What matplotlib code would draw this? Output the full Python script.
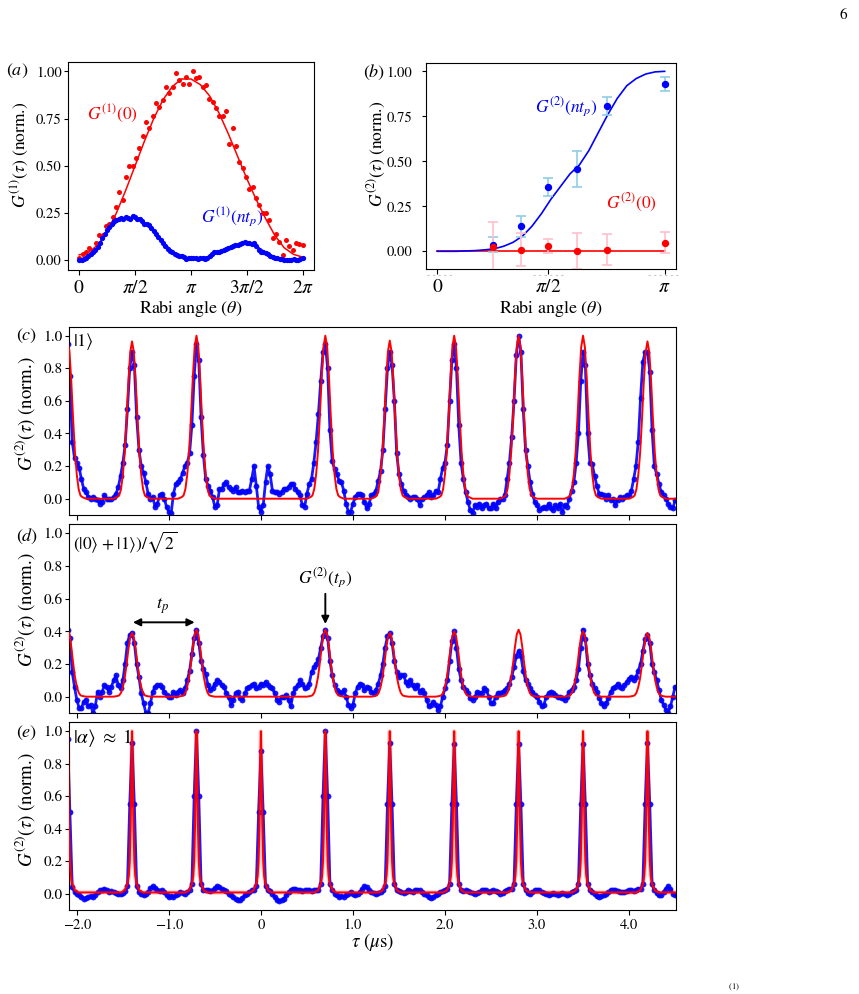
import numpy as np
import matplotlib
matplotlib.use("Agg")
import matplotlib.pyplot as plt
from matplotlib.lines import Line2D

plt.rcParams.update({
    "font.family": "serif",
    "font.serif": ["STIXGeneral", "Liberation Serif", "DejaVu Serif"],
    "mathtext.fontset": "stix",
    "axes.linewidth": 0.8,
    "xtick.major.width": 0.8, "ytick.major.width": 0.8,
    "xtick.major.size": 3.5, "ytick.major.size": 3.0,
})

PI = np.pi
W, H = 859, 994

# ---------------------------------------------------------------- (a) G1 vs Rabi angle
a_red_pts = [0.01, 0.03, 0.04, 0.065, 0.05, 0.09, 0.13, 0.135, 0.18, 0.19,
             0.23, 0.28, 0.36, 0.32, 0.44, 0.50, 0.50, 0.54, 0.595, 0.655,
             0.73, 0.70, 0.765, 0.83, 0.81, 0.85, 0.915, 0.885, 0.915, 0.99,
             0.955, 0.935, 0.97, 0.935, 1.0, 0.965, 0.97, 0.915, 0.93, 0.855,
             0.84, 0.805, 0.765, 0.765, 0.79, 0.615, 0.70, 0.605, 0.52, 0.49,
             0.44, 0.375, 0.385, 0.33, 0.29, 0.25, 0.25, 0.21, 0.115, 0.14,
             0.097, 0.027, 0.106, 0.074, 0.053, 0.092, 0.083, 0.08]
a_blue_pts = [0.0, 0.0, 0.005, 0.01, 0.02, 0.03, 0.04, 0.055, 0.07, 0.09,
              0.115, 0.14, 0.16, 0.175, 0.19, 0.205, 0.21, 0.22, 0.225, 0.22,
              0.23, 0.225, 0.215, 0.235, 0.23, 0.215, 0.215, 0.205, 0.19, 0.19,
              0.185, 0.17, 0.155, 0.14, 0.12, 0.105, 0.09, 0.075, 0.06, 0.05,
              0.04, 0.03, 0.025, 0.02, 0.02, 0.015, 0.003, 0.012, 0.01, 0.008,
              0.01, 0.006, 0.01, 0.008, 0.005, 0.012, 0.02, 0.03, 0.04, 0.04,
              0.045, 0.05, 0.055, 0.06, 0.065, 0.068, 0.075, 0.08, 0.082, 0.085,
              0.09, 0.095, 0.092, 0.088, 0.085, 0.088, 0.075, 0.055, 0.045, 0.045,
              0.035, 0.03, 0.022, 0.018, 0.012, 0.008, 0.005, 0.003, 0.002, 0.0,
              0.002, 0.0, 0.003, -0.002, 0.0, 0.004, 0.008]
a_red_fit = [0.027, 0.04, 0.08, 0.15, 0.25, 0.37, 0.50, 0.63, 0.75, 0.85, 0.92, 0.96,
             0.96, 0.93, 0.87, 0.78, 0.67, 0.55, 0.43, 0.32, 0.22, 0.13, 0.065, 0.03, 0.015]
a_blue_fit = [0.0, 0.02, 0.07, 0.15, 0.2, 0.225, 0.225, 0.195, 0.15, 0.095, 0.045, 0.02,
              0.01, 0.01, 0.02, 0.045, 0.065, 0.08, 0.09, 0.075, 0.04, 0.015, 0.005, 0.002, 0.0]

# ---------------------------------------------------------------- (b) G2 vs Rabi angle
b_theta = [0.77, 1.15, 1.53, 1.93, 2.34, 3.14]
b_blue = [0.037, 0.138, 0.356, 0.456, 0.808, 0.930]
b_blue_err = [0.04, 0.06, 0.05, 0.10, 0.05, 0.04]
b_red = [0.024, 0.009, 0.031, 0.0, 0.009, 0.048]
b_red_err = [0.14, 0.09, 0.04, 0.10, 0.085, 0.06]
b_blue_fit = [0.0, 0.0, 0.0, 0.002, 0.004, 0.008, 0.014, 0.028, 0.05, 0.085, 0.14, 0.21,
              0.29, 0.36, 0.43, 0.48, 0.56, 0.66, 0.76, 0.85, 0.92, 0.96, 0.985, 0.997, 1.0]
b_red_fit = [0.0, 0.0, 0.0, 0.0, 0.0, 0.0, 0.0, 0.0, 0.0, 0.0, 0.0, 0.0,
             0.0, 0.0, 0.0, 0.0, 0.0, 0.0, 0.0, 0.0, 0.0, 0.0, 0.0, 0.0, 0.0]

# ---------------------------------------------------------------- (c)-(e) G2(tau)
# one block per 0.7 us period, samples every 0.025 us starting at each peak
TAU0, DT, PERIOD = -2.1, 0.025, 0.7
c_blue = [
    [0.95, 0.75, 0.35, 0.25, 0.22, 0.19, 0.12, 0.06, 0.04, 0.01, 0.0, 0.01, 0.0, -0.01,
     -0.03, -0.02, 0.02, 0.0, 0.0, 0.0, 0.01, 0.03, 0.07, 0.14, 0.22, 0.33, 0.55, 0.8],
    [0.9, 0.82, 0.5, 0.3, 0.2, 0.16, 0.1, 0.03, 0.0, 0.01, -0.05, -0.03, 0.02, 0.03,
     0.0, -0.05, -0.08, -0.09, 0.03, 0.09, 0.1, 0.12, 0.16, 0.2, 0.22, 0.28, 0.45, 0.75],
    [0.95, 0.85, 0.5, 0.27, 0.12, 0.08, 0.05, 0.01, -0.05, -0.04, 0.06, 0.06, 0.09, 0.1,
     0.07, 0.06, 0.05, 0.07, 0.04, 0.04, 0.05, 0.04, 0.05, 0.05, 0.12, 0.2, 0.08, -0.05],
    [-0.08, -0.04, 0.1, 0.2, 0.15, 0.05, 0.04, 0.04, 0.03, 0.04, 0.06, 0.06, 0.07, 0.09,
     0.09, 0.06, 0.04, 0.02, -0.04, -0.05, 0.03, 0.09, 0.12, 0.22, 0.35, 0.52, 0.72, 0.9],
    [0.95, 0.8, 0.42, 0.23, 0.18, 0.15, 0.11, 0.1, 0.05, -0.03, -0.08, -0.08, -0.03, 0.01,
     0.03, 0.03, 0.02, -0.02, -0.06, -0.03, 0.02, 0.03, 0.05, 0.11, 0.17, 0.3, 0.55, 0.8],
    [0.9, 0.82, 0.6, 0.28, 0.15, 0.09, 0.05, 0.02, 0.01, 0.0, 0.01, 0.01, 0.0, -0.04,
     0.0, 0.01, 0.02, 0.04, 0.01, 0.02, 0.05, 0.04, 0.12, 0.19, 0.22, 0.33, 0.6, 0.85],
    [0.95, 0.8, 0.45, 0.22, 0.12, 0.04, -0.02, -0.07, -0.09, -0.04, -0.05, -0.03, -0.06, -0.04,
     -0.03, -0.06, -0.06, -0.03, -0.06, -0.02, 0.0, 0.0, 0.02, 0.12, 0.22, 0.38, 0.6, 0.88],
    [1.0, 0.9, 0.55, 0.3, 0.2, 0.1, 0.03, -0.02, -0.04, -0.07, -0.06, -0.05, -0.06, -0.03,
     -0.06, -0.07, -0.04, -0.06, -0.03, -0.08, -0.04, -0.05, 0.0, 0.05, 0.1, 0.22, 0.4, 0.72],
    [0.9, 0.82, 0.4, 0.22, 0.21, 0.14, 0.08, 0.03, 0.03, 0.02, 0.0, 0.02, -0.01, 0.0,
     -0.04, -0.01, 0.01, 0.0, 0.01, 0.02, 0.02, 0.05, 0.12, 0.2, 0.35, 0.62, 0.84, 0.9],
    [0.9, 0.78, 0.42, 0.2, 0.15, 0.09, 0.04, 0.02, 0.0, -0.03, -0.05, -0.06, -0.01],
]
d_blue = [
    [0.41, 0.36, 0.15, 0.06, -0.02, -0.07, -0.07, -0.03, -0.02, -0.06, -0.05, -0.1, -0.06, 0.03,
     0.0, 0.03, 0.07, 0.06, 0.03, 0.06, 0.1, 0.13, 0.07, 0.05, 0.1, 0.2, 0.33, 0.38],
    [0.39, 0.33, 0.2, 0.12, 0.02, -0.04, -0.1, -0.1, -0.04, 0.03, 0.06, 0.07, 0.07, 0.06,
     0.03, 0.01, 0.0, 0.0, 0.03, 0.01, 0.03, 0.04, 0.02, 0.05, 0.1, 0.16, 0.26, 0.36],
    [0.41, 0.33, 0.22, 0.17, 0.14, 0.07, 0.04, 0.05, 0.08, 0.1, 0.09, 0.07, 0.06, 0.02,
     0.0, -0.05, -0.02, 0.02, 0.03, -0.01, -0.02, 0.02, 0.05, 0.06, 0.07, 0.08, 0.05, 0.06],
    [0.08, 0.07, 0.09, 0.07, 0.06, 0.05, 0.02, -0.02, -0.03, 0.0, 0.0, 0.01, -0.02, -0.06,
     0.02, 0.05, 0.07, 0.1, 0.08, 0.05, 0.06, 0.08, 0.15, 0.18, 0.2, 0.23, 0.3, 0.37],
    [0.41, 0.36, 0.22, 0.13, 0.07, 0.04, 0.03, 0.02, 0.04, 0.0, -0.05, -0.07, -0.05, 0.02,
     0.06, 0.08, 0.07, 0.04, 0.06, 0.05, 0.03, 0.02, 0.04, 0.08, 0.13, 0.2, 0.3, 0.37],
    [0.39, 0.33, 0.22, 0.15, 0.12, 0.13, 0.13, 0.09, 0.07, 0.1, 0.07, 0.05, 0.07, 0.03,
     0.04, 0.02, -0.02, -0.06, -0.05, -0.03, -0.05, -0.08, -0.06, 0.0, 0.05, 0.1, 0.22, 0.34],
    [0.4, 0.3, 0.17, 0.1, 0.06, 0.04, 0.02, -0.01, -0.02, 0.0, 0.03, 0.02, 0.02, 0.05,
     0.04, 0.0, -0.04, -0.04, 0.0, 0.02, 0.02, 0.03, 0.04, 0.05, 0.08, 0.12, 0.18, 0.25],
    [0.28, 0.25, 0.16, 0.1, 0.08, 0.05, 0.03, 0.01, 0.0, -0.03, -0.06, -0.05, 0.0, 0.02,
     0.03, 0.02, 0.01, 0.0, 0.0, -0.01, -0.02, 0.0, 0.03, 0.04, 0.06, 0.1, 0.17, 0.3],
    [0.41, 0.35, 0.2, 0.13, 0.08, 0.05, 0.03, -0.01, -0.04, -0.06, -0.04, -0.01, 0.03, 0.05,
     0.06, 0.08, 0.06, 0.05, 0.07, 0.09, 0.11, 0.12, 0.1, 0.12, 0.16, 0.2, 0.28, 0.35],
    [0.38, 0.33, 0.2, 0.15, 0.1, 0.04, -0.02, -0.05, -0.08, -0.1, -0.06, 0.0, 0.06],
]
e_blue = [
    [0.95, 0.5, 0.04, 0.01, 0.0, -0.01, -0.02, -0.03, -0.025, -0.02, -0.015, -0.02, -0.01, 0.01,
     0.02, 0.025, 0.03, 0.02, 0.01, 0.015, 0.01, 0.005, 0.0, 0.0, 0.005, 0.015, 0.05, 0.55],
    [0.93, 0.55, 0.05, 0.01, 0.0, -0.01, 0.0, 0.01, 0.035, 0.045, 0.035, 0.02, 0.015, 0.02,
     0.01, -0.01, -0.02, -0.015, -0.02, -0.01, 0.0, 0.01, 0.005, 0.0, 0.01, 0.02, 0.06, 0.6],
    [1.0, 0.6, 0.06, 0.02, 0.02, 0.025, 0.015, 0.02, 0.035, 0.045, 0.04, 0.03, 0.02, 0.015,
     0.0, -0.01, -0.02, -0.035, -0.04, -0.04, -0.025, -0.01, 0.0, 0.01, 0.02, 0.025, 0.05, 0.5],
    [0.88, 0.5, 0.05, 0.02, 0.015, 0.0, -0.02, -0.04, -0.045, -0.04, -0.03, -0.01, 0.01, 0.02,
     0.03, 0.03, 0.025, 0.02, 0.015, 0.02, 0.025, 0.02, 0.015, 0.02, 0.025, 0.02, 0.06, 0.6],
    [1.0, 0.6, 0.06, 0.02, 0.0, -0.01, -0.02, -0.015, -0.02, -0.01, 0.0, 0.01, 0.0, -0.01,
     0.0, 0.01, 0.03, 0.045, 0.04, 0.02, 0.01, 0.005, 0.0, 0.005, 0.01, 0.02, 0.05, 0.55],
    [0.93, 0.55, 0.06, 0.02, 0.015, 0.01, 0.005, 0.01, 0.02, 0.015, 0.01, 0.02, 0.025, 0.02,
     0.01, 0.0, -0.01, -0.02, -0.025, -0.02, -0.01, 0.0, 0.01, 0.015, 0.02, 0.03, 0.06, 0.55],
    [0.92, 0.55, 0.06, 0.02, 0.015, 0.02, 0.015, 0.01, 0.005, 0.0, 0.005, 0.01, 0.02, 0.025,
     0.02, 0.01, 0.015, 0.02, 0.015, 0.01, 0.0, 0.005, 0.015, 0.025, 0.03, 0.03, 0.06, 0.55],
    [0.92, 0.55, 0.06, 0.02, 0.005, 0.0, 0.01, 0.02, 0.025, 0.02, 0.01, 0.005, 0.0, -0.005,
     0.0, 0.005, 0.0, -0.005, 0.0, 0.005, 0.0, -0.005, 0.0, 0.01, 0.015, 0.02, 0.06, 0.55],
    [0.92, 0.55, 0.06, 0.02, 0.01, 0.0, -0.015, -0.02, -0.015, -0.01, 0.0, 0.01, 0.02, 0.025,
     0.02, 0.015, 0.01, 0.01, 0.01, 0.015, 0.02, 0.02, 0.015, 0.02, 0.03, 0.03, 0.06, 0.55],
    [0.93, 0.55, 0.06, 0.02, 0.005, -0.01, -0.005, 0.01, 0.03, 0.045, 0.03, 0.0, -0.01],
]

# fitted curves: peak centres, heights, and one peak profile per panel type
fit_centres = [-2.1, -1.4, -0.7, 0.0, 0.7, 1.4, 2.1, 2.8, 3.5, 4.2, 4.9]
c_fit_heights = [0.97, 0.965, 1.0, 0.0, 1.0, 0.97, 1.0, 1.0, 1.0, 0.965, 0.97]
d_fit_heights = [0.41, 0.39, 0.41, 0.0, 0.41, 0.39, 0.40, 0.41, 0.40, 0.39, 0.41]
e_fit_heights = [1.0, 1.0, 1.0, 1.0, 1.0, 1.0, 1.0, 1.0, 1.0, 1.0, 1.0]
broad_offsets = [-0.2, -0.16, -0.14, -0.12, -0.1, -0.08, -0.06, -0.04, -0.02, 0.0,
                 0.02, 0.04, 0.06, 0.08, 0.1, 0.12, 0.14, 0.16, 0.2]
broad_profile = [0.0, 0.01, 0.02, 0.06, 0.15, 0.29, 0.5, 0.74, 0.93, 1.0,
                 0.93, 0.74, 0.5, 0.29, 0.15, 0.06, 0.02, 0.01, 0.0]
narrow_offsets = [-0.12, -0.08, -0.05, -0.035, -0.025, -0.02, -0.015, -0.01, -0.005, 0.0,
                  0.005, 0.01, 0.015, 0.02, 0.025, 0.035, 0.05, 0.08, 0.12]
narrow_profile = [0.008, 0.02, 0.06, 0.11, 0.2, 0.3, 0.42, 0.6, 0.85, 1.0,
                  0.85, 0.6, 0.42, 0.3, 0.2, 0.11, 0.06, 0.02, 0.008]


def px_axes(fig, l, t, r, b):
    return fig.add_axes([l / W, 1 - b / H, (r - l) / W, (b - t) / H])


def blocks_xy(blocks):
    xs, ys = [], []
    for i, blk in enumerate(blocks):
        for j, v in enumerate(blk):
            xs.append(TAU0 + i * PERIOD + j * DT)
            ys.append(v)
    return xs, ys


def fit_xy(heights, offsets, profile):
    xs, ys = [], []
    for c, h in zip(fit_centres, heights):
        xs += [c + o for o in offsets]
        ys += [h * p for p in profile]
    return xs, ys


fig = plt.figure(figsize=(W / 100, H / 100), dpi=100)

# ---- (a)
ax = px_axes(fig, 68, 62, 314, 270)
th_r = np.linspace(0, 2 * PI, len(a_red_pts))
th_b = np.linspace(0, 2 * PI, len(a_blue_pts))
th_f = np.linspace(0, 2 * PI, len(a_red_fit))
ax.plot(th_r, a_red_pts, "o", color="red", ms=3.6, mew=0)
ax.plot(th_f, a_red_fit, color="red", lw=1.1)
ax.plot(th_b, a_blue_pts, "o", color="blue", ms=3.8, mew=0)
ax.plot(th_f, a_blue_fit, color="blue", lw=1.1)
ax.set_xlim(-0.314, 2 * PI + 0.314)
ax.set_ylim(-0.053, 1.05)
ax.set_xticks([0, PI / 2, PI, 3 * PI / 2, 2 * PI])
ax.set_xticklabels([r"$0$", r"$\pi/2$", r"$\pi$", r"$3\pi/2$", r"$2\pi$"], fontsize=14)
ax.set_yticks([0, 0.25, 0.5, 0.75, 1.0])
ax.tick_params(axis="y", labelsize=10.5, pad=1.5)
ax.set_xlabel(r"Rabi angle ($\theta$)", fontsize=13, va="top")
ax.xaxis.set_label_coords(0.5, -0.137)
ax.set_ylabel(r"$G^{(1)}(\tau)$ (norm.)", fontsize=12.5)
ax.yaxis.set_label_coords(-0.154, 0.553)
ax.text(0.95, 0.78, r"$G^{(1)}(0)$", color="red", fontsize=12.5, ha="center", va="center")
ax.text(4.31, 0.228, r"$G^{(1)}(nt_p)$", color="blue", fontsize=12.5, ha="center", va="center")

# ---- (b)
ax = px_axes(fig, 426, 62.7, 676, 269.3)
th_fb = np.linspace(0, PI, len(b_blue_fit))
ax.plot(th_fb, b_red_fit, color="red", lw=1.2)
ax.plot(th_fb, b_blue_fit, color="blue", lw=1.2)
ax.errorbar(b_theta, b_blue, yerr=b_blue_err, fmt="o", color="blue", ecolor="#8fcde3",
            elinewidth=1.2, capsize=3.5, capthick=1.2, ms=4.3)
ax.errorbar(b_theta, b_red, yerr=b_red_err, fmt="o", color="red", ecolor="pink",
            elinewidth=1.2, capsize=3.5, capthick=1.2, ms=4.3)
ax.set_xlim(-0.157, PI + 0.157)
ax.set_ylim(-0.1, 1.048)
ax.set_xticks([0, b_theta[2], PI])
ax.set_xticklabels([r"$0$", r"$\pi/2$", r"$\pi$"], fontsize=14)
ax.set_yticks([0, 0.25, 0.5, 0.75, 1.0])
ax.tick_params(axis="y", labelsize=10.5, pad=7)
ax.set_xlabel(r"Rabi angle ($\theta$)", fontsize=13, va="top")
ax.xaxis.set_label_coords(0.5, -0.138)
ax.set_ylabel(r"$G^{(2)}(\tau)$ (norm.)", fontsize=12.5)
ax.yaxis.set_label_coords(-0.152, 0.558)
ax.text(1.79, 0.80, r"$G^{(2)}(nt_p)$", color="blue", fontsize=12.5, ha="center", va="center")
ax.text(2.68, 0.27, r"$G^{(2)}(0)$", color="red", fontsize=12.5, ha="center", va="center")
for x0, x1 in [(427, 453), (533, 565), (648, 680)]:
    fig.add_artist(Line2D([x0 / W, x1 / W], [1 - 275 / H] * 2, color="#c8c8c8",
                          lw=0.8, ls=(0, (2, 3))))

# ---- (c), (d), (e)
panels = [
    (326.7, 515, c_blue, c_fit_heights, broad_offsets, broad_profile,
     r"$|1\rangle$", 13, 0.536),
    (524.3, 713, d_blue, d_fit_heights, broad_offsets, broad_profile,
     r"$(|0\rangle\;{+}\;|1\rangle)/\sqrt{2}$", 12.5, 0.546),
    (722.3, 910, e_blue, e_fit_heights, narrow_offsets, narrow_profile,
     r"$|\alpha\rangle\;\approx\;1$", 14, 0.533),
]
axes = []
for top, bot, blocks, heights, offs, prof, note, nfs, ly in panels:
    ax = px_axes(fig, 69, top, 676, bot)
    axes.append(ax)
    x, y = blocks_xy(blocks)
    ax.plot(x, y, "-", color="blue", lw=2.0, alpha=0.9, zorder=2)
    ax.plot(x, y, "o", color="blue", ms=4.2, mew=0, alpha=0.9, zorder=2)
    fx, fy = fit_xy(heights, offs, prof)
    if blocks is e_blue:
        ax.plot(fx, fy, color="red", lw=3.0, alpha=0.22, zorder=3)
    ax.plot(fx, fy, color="red", lw=1.4, zorder=3)
    ax.set_xlim(-2.085, 4.51)
    ax.set_ylim(-0.1, 1.055)
    ax.set_xticks([-2, -1, 0, 1, 2, 3, 4])
    ax.set_yticks([0, 0.2, 0.4, 0.6, 0.8, 1.0])
    ax.tick_params(axis="y", labelsize=11, pad=1.5)
    ax.tick_params(axis="x", labelsize=10.5, pad=3)
    ax.set_ylabel(r"$G^{(2)}(\tau)$ (norm.)", fontsize=13.5)
    ax.yaxis.set_label_coords(-0.053, ly)
    ax.text(0.006, 0.975, note, transform=ax.transAxes, fontsize=nfs, ha="left", va="top")

axes[0].set_xticklabels([])
axes[1].set_xticklabels([])
axes[2].set_xticklabels(["\u22122.0", "\u22121.0", "0", "1.0", "2.0", "3.0", "4.0"])
axes[2].set_xlabel(r"$\tau$ ($\mu$s)", fontsize=13.5, va="center")
axes[2].xaxis.set_label_coords(0.5, -0.172)

ax = axes[1]
ax.annotate("", xy=(-0.72, 0.455), xytext=(-1.39, 0.455),
            arrowprops=dict(arrowstyle="<|-|>", color="k", lw=1.4, mutation_scale=11,
                            shrinkA=0, shrinkB=0))
ax.text(-1.065, 0.555, r"$t_p$", fontsize=13, ha="center", va="center")
ax.annotate(r"$G^{(2)}(t_p)$", xy=(0.7, 0.445), xytext=(0.7, 0.655), ha="center", va="bottom",
            fontsize=12.5, arrowprops=dict(arrowstyle="-|>", color="k", lw=1.4,
                                           mutation_scale=11, shrinkA=1, shrinkB=0))

# panel letters and page furniture
for lab, (px, py) in zip("abcde", [(17, 71), (374, 72), (27, 336), (27, 536), (27, 733)]):
    fig.text(px / W, 1 - py / H, rf"$({lab})$", fontsize=13, ha="center", va="center")
fig.text(843 / W, 1 - 15 / H, "6", fontsize=11, ha="center", va="center")
fig.text(734 / W, 1 - 984 / H, r"$^{(1)}$", fontsize=9, ha="center", va="top")

fig.savefig("out.png", dpi=100)
